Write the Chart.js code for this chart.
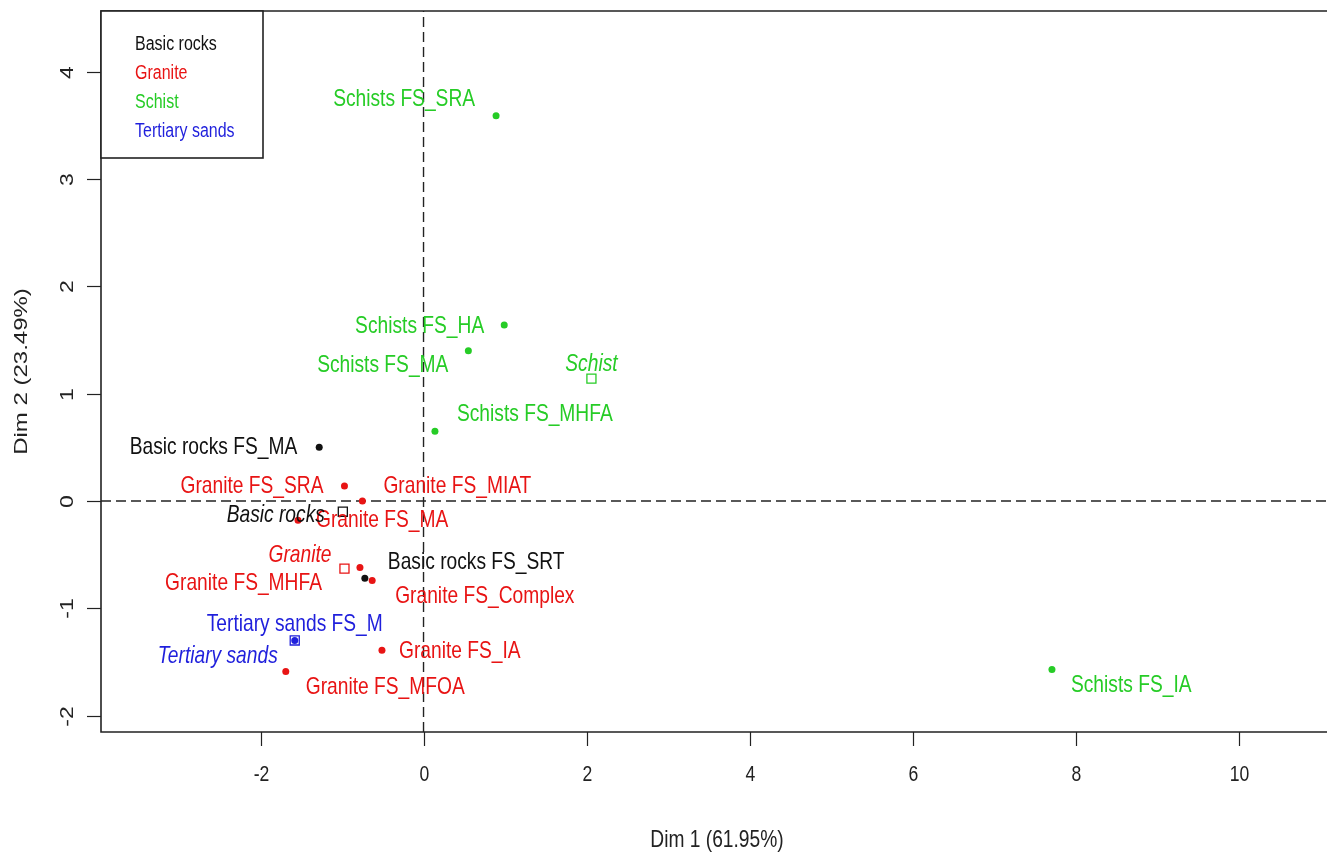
<!DOCTYPE html>
<html>
<head>
<meta charset="utf-8">
<title>Individuals factor map - Dim 1 / Dim 2</title>
<script src="https://cdn.jsdelivr.net/npm/chart.js@4.4.1/dist/chart.umd.min.js"></script>
<style>
  html, body { margin: 0; padding: 0; background: #fff; overflow: hidden; }
  #wrap { width: 1327px; height: 854px; }
</style>
</head>
<body>
<div id="wrap"><canvas id="pcaChart"></canvas></div>
<script>
// --- data ---
const sampleNames = [
    "Basic rocks FS_MA", "Basic rocks FS_SRT",
    "Granite FS_SRA", "Granite FS_MIAT", "Granite FS_MA", "Granite FS_MHFA",
    "Granite FS_Complex", "Granite FS_IA", "Granite FS_MFOA",
    "Schists FS_SRA", "Schists FS_HA", "Schists FS_MA", "Schists FS_MHFA", "Schists FS_IA",
    "Tertiary sands FS_M"
];
const sampleGroups = [
    "Basic rocks", "Basic rocks",
    "Granite", "Granite", "Granite", "Granite", "Granite", "Granite", "Granite",
    "Schist", "Schist", "Schist", "Schist", "Schist",
    "Tertiary sands"
];
const dim1 = [-1.28, -0.72, -0.97, -0.75, -1.54, -0.78, -0.63, -0.51, -1.69, 0.89, 0.99, 0.55, 0.14, 7.71, -1.58];
const dim2 = [0.50, -0.72, 0.14, 0.00, -0.18, -0.62, -0.74, -1.39, -1.59, 3.59, 1.64, 1.40, 0.65, -1.57, -1.30];

const groupNames = ["Basic rocks", "Granite", "Schist", "Tertiary sands"];
const groupDim1 = [-0.99, -0.97, 2.06, -1.58];
const groupDim2 = [-0.10, -0.63, 1.14, -1.30];

const xTicks = [-2, 0, 2, 4, 6, 8, 10];
const yTicks = [-2, -1, 0, 1, 2, 3, 4];
const xTitle = "Dim 1 (61.95%)";
const yTitle = "Dim 2 (23.49%)";

// --- styles ---
const xMin = -3.957, xMax = 10.99;
const yMin = -2.153, yMax = 4.567;
const FONT = "'Liberation Sans', Arial, sans-serif";
const SQUEEZE = 0.8; // reference text is narrow
const groupColors = {
    "Basic rocks": "#111111",
    "Granite": "#e81414",
    "Schist": "#26cc26",
    "Tertiary sands": "#1f1fdc"
};
// label offsets from the point in px: [dx, dy, align]
const sampleLabelPos = {
    "Basic rocks FS_MA": [-22, 0, "right"],
    "Basic rocks FS_SRT": [23, -16, "left"],
    "Granite FS_SRA": [-21, 0, "right"],
    "Granite FS_MIAT": [21, -15, "left"],
    "Granite FS_MA": [18, 0, "left"],
    "Granite FS_MHFA": [-38, 16, "right"],
    "Granite FS_Complex": [23, 16, "left"],
    "Granite FS_IA": [17, 1, "left"],
    "Granite FS_MFOA": [20, 16, "left"],
    "Schists FS_SRA": [-21, -16, "right"],
    "Schists FS_HA": [-20, 1, "right"],
    "Schists FS_MA": [-20, 15, "right"],
    "Schists FS_MHFA": [22, -17, "left"],
    "Schists FS_IA": [19, 16, "left"],
    "Tertiary sands FS_M": [0, -16, "center"]
};
const groupLabelPos = {
    "Basic rocks": [-18, 4, "right"],
    "Granite": [-13, -13, "right"],
    "Schist": [0, -14, "center"],
    "Tertiary sands": [-17, 16, "right"]
};

function squeezedText(ctx, str, px, py, align, font, color) {
    ctx.save();
    ctx.translate(px, py);
    ctx.scale(SQUEEZE, 1);
    ctx.font = font;
    ctx.fillStyle = color;
    ctx.textAlign = align;
    ctx.textBaseline = "middle";
    ctx.fillText(str, 0, 0);
    ctx.restore();
}

function rotatedText(ctx, str, px, py, font, color) {
    ctx.save();
    ctx.translate(px, py);
    ctx.rotate(-Math.PI / 2);
    ctx.scale(1, SQUEEZE);
    ctx.font = font;
    ctx.fillStyle = color;
    ctx.textAlign = "center";
    ctx.textBaseline = "middle";
    ctx.fillText(str, 0, 0);
    ctx.restore();
}

// build datasets from the arrays
const datasets = [];
groupNames.forEach(function (g) {
    const pts = [];
    sampleNames.forEach(function (n, i) {
        if (sampleGroups[i] === g) pts.push({ x: dim1[i], y: dim2[i], name: n });
    });
    datasets.push({
        label: g, kind: "sample", data: pts,
        pointStyle: "circle", pointRadius: 3.5, borderWidth: 0,
        backgroundColor: groupColors[g], borderColor: groupColors[g], order: 1
    });
});
groupNames.forEach(function (g, i) {
    datasets.push({
        label: g, kind: "centroid",
        data: [{ x: groupDim1[i], y: groupDim2[i], name: g }],
        pointStyle: "rect", pointRadius: 6.4, borderWidth: 1.3,
        backgroundColor: "rgba(0,0,0,0)", borderColor: groupColors[g], order: 0
    });
});
// dashed reference lines through the origin
datasets.push({
    type: "line", kind: "ref", data: [{ x: xMin, y: 0 }, { x: xMax + 0.3, y: 0 }],
    borderColor: "#222", borderWidth: 1.4, borderDash: [10, 5], pointRadius: 0, order: 5, clip: false
});
datasets.push({
    type: "line", kind: "ref", data: [{ x: 0, y: yMin }, { x: 0, y: yMax }],
    borderColor: "#222", borderWidth: 1.4, borderDash: [10, 5], pointRadius: 0, order: 5
});

const rPlotLook = {
    id: "rPlotLook",
    afterDatasetsDraw(chart) {
        const ctx = chart.ctx;
        const a = chart.chartArea;
        const xs = chart.scales.x, ys = chart.scales.y;

        // point labels
        chart.data.datasets.forEach(function (ds, di) {
            if (ds.kind === "ref") return;
            const meta = chart.getDatasetMeta(di);
            ds.data.forEach(function (p, j) {
                const el = meta.data[j];
                const pos = ds.kind === "sample" ? sampleLabelPos[p.name] : groupLabelPos[p.name];
                const font = (ds.kind === "centroid" ? "italic " : "") + "24px " + FONT;
                squeezedText(ctx, p.name, el.x + pos[0], el.y + pos[1], pos[2], font, groupColors[ds.label]);
            });
        });

        ctx.save();
        ctx.strokeStyle = "#222";
        ctx.lineWidth = 1.6;
        // box (right side runs off the picture)
        ctx.beginPath();
        ctx.moveTo(chart.width + 5, a.top);
        ctx.lineTo(a.left, a.top);
        ctx.lineTo(a.left, a.bottom);
        ctx.lineTo(chart.width + 5, a.bottom);
        ctx.stroke();

        // ticks
        ctx.lineWidth = 1.2;
        xTicks.forEach(function (v) {
            const px = Math.round(xs.getPixelForValue(v)) + 0.5;
            ctx.beginPath();
            ctx.moveTo(px, a.bottom);
            ctx.lineTo(px, a.bottom + 14);
            ctx.stroke();
            squeezedText(ctx, String(v), px, a.bottom + 43, "center", "22px " + FONT, "#222");
        });
        yTicks.forEach(function (v) {
            const py = Math.round(ys.getPixelForValue(v)) + 0.5;
            ctx.beginPath();
            ctx.moveTo(a.left, py);
            ctx.lineTo(a.left - 14, py);
            ctx.stroke();
            rotatedText(ctx, String(v), a.left - 33, py, "23px " + FONT, "#222");
        });
        ctx.restore();

        // axis titles
        squeezedText(ctx, xTitle, (a.left + chart.width + 6) / 2, a.bottom + 108, "center", "24px " + FONT, "#222");
        rotatedText(ctx, yTitle, 22, (a.top + a.bottom) / 2, "24px " + FONT, "#222");

        // legend box
        ctx.save();
        ctx.fillStyle = "#fff";
        ctx.fillRect(a.left, a.top, 162, 147);
        ctx.strokeStyle = "#222";
        ctx.lineWidth = 1.6;
        ctx.strokeRect(a.left, a.top, 162, 147);
        ctx.restore();
        groupNames.forEach(function (g, i) {
            squeezedText(ctx, g, a.left + 34, a.top + 33 + i * 29.3, "left", "20px " + FONT, groupColors[g]);
        });
    }
};

new Chart(document.getElementById("pcaChart").getContext("2d"), {
    type: "scatter",
    data: { datasets: datasets },
    options: {
        responsive: true,
        maintainAspectRatio: false,
        animation: false,
        layout: { padding: { top: 11, right: 0, bottom: 0, left: 0 } },
        scales: {
            x: {
                type: "linear", min: xMin, max: xMax,
                grid: { display: false }, border: { display: false }, ticks: { display: false },
                afterFit: function (s) { s.height = 122; }
            },
            y: {
                type: "linear", min: yMin, max: yMax,
                grid: { display: false }, border: { display: false }, ticks: { display: false },
                afterFit: function (s) { s.width = 101; }
            }
        },
        plugins: {
            legend: { display: false },
            tooltip: { enabled: false }
        }
    },
    plugins: [rPlotLook]
});
</script>
</body>
</html>
